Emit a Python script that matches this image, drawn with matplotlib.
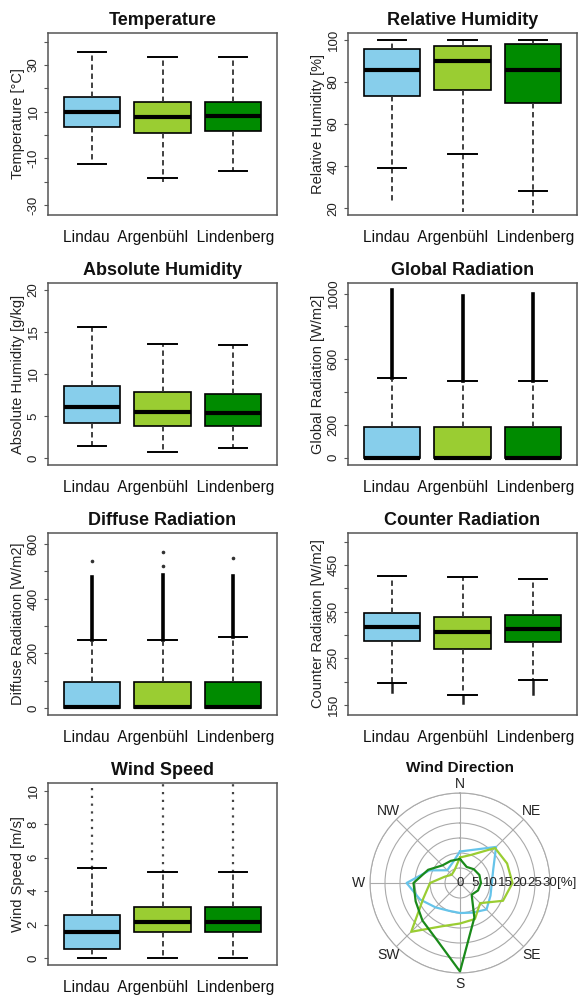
import matplotlib.pyplot as plt
import numpy as np

plt.rcParams['font.family'] = ['Liberation Sans', 'DejaVu Sans']

stations = ['Lindau', 'Argenbühl', 'Lindenberg']
box_colors = ['#87CEEB', '#9ACD32', '#008B00']
line_colors = ['#66C4EA', '#9ACD32', '#1A8A1A']

# per station: lower whisker, q1, median, q3, upper whisker
temp_stats = [[-12.4, 3.6, 10.0, 16.2, 35.7],
              [-18.6, 1.0, 7.9, 14.3, 33.3],
              [-15.3, 1.9, 8.3, 14.3, 33.3]]
temp_out_low = [None, -20.0, None]

rh_stats = [[39.2, 73.2, 85.8, 95.7, 99.7],
            [45.6, 76.0, 89.9, 97.0, 99.7],
            [28.2, 70.0, 85.8, 98.1, 99.7]]
rh_out_low = [23.1, 18.4, 17.8]

ah_stats = [[1.45, 4.2, 6.07, 8.6, 15.6],
            [0.78, 3.8, 5.5, 7.84, 13.6],
            [1.18, 3.8, 5.37, 7.64, 13.4]]

glob_stats = [[0, 0, 0, 184, 483],
              [0, 0, 0, 184, 469],
              [0, 0, 0, 184, 465]]
glob_out_high = [1020, 983, 1000]

diff_stats = [[0, 0, 2, 96, 250],
              [0, 0, 2, 96, 250],
              [0, 0, 2, 96, 258]]
diff_out_high = [478, 488, 484]
diff_out_points = [[536], [521, 569], [549]]

cr_stats = [[196.4, 287.8, 317.8, 347.8, 427.0],
            [171.4, 270.0, 305.7, 338.0, 423.6],
            [203.6, 284.3, 312.8, 342.8, 420.0]]
cr_out_low = [178.6, 153.6, 173.6]

ws_stats = [[0, 0.55, 1.55, 2.58, 5.37],
            [0, 1.55, 2.15, 3.08, 5.13],
            [0, 1.55, 2.15, 3.08, 5.13]]
ws_out_high = [12, 12, 12]

# wind direction frequencies [%], 16 sectors clockwise from north
directions = ['N', 'NNE', 'NE', 'ENE', 'E', 'ESE', 'SE', 'SSE',
              'S', 'SSW', 'SW', 'WSW', 'W', 'WNW', 'NW', 'NNW']
wd_lindau = [10.5, 12, 17, 12, 10.6, 11, 12.5, 10.7, 10, 10, 11.5, 14.4, 17.8, 11, 6, 7]
wd_argenbuehl = [8.5, 10.2, 16.5, 17, 17.5, 15.5, 9.5, 13, 13.5, 15.6, 23, 13.2, 10, 5.5, 3.9, 4.7]
wd_lindenberg = [8, 5.8, 6.5, 7, 7, 6.5, 5.5, 12.5, 29.5, 20.4, 17.7, 16, 15.5, 11.5, 8.3, 8]

W, H = 579, 996
fig = plt.figure(figsize=(W / 100, H / 100), dpi=100)

frame_col = '#555555'
out_styles = {'dash': dict(color='#333333', linewidth=1.3, linestyle=(0, (3, 2))),
              'solid': dict(color='black', linewidth=2.6, linestyle='-'),
              'thin': dict(color='#222222', linewidth=1.8, linestyle='-'),
              'dot': dict(color='#444444', linewidth=1.6, linestyle=(0, (1, 2.5)))}


def new_axes(col, row):
    left = [48, 348][col]
    top = [33, 283, 533, 783][row]
    return fig.add_axes([left / W, 1 - (top + 182) / H, 229 / W, 182 / H])


def box_panel(ax, title, ylabel, stats, ylim, ticks, ticklabels,
              out_low=None, out_high=None, style='dash', points=None):
    pos = [1, 2, 3]
    bstats = [dict(whislo=s[0], q1=s[1], med=s[2], q3=s[3], whishi=s[4], fliers=[])
              for s in stats]
    bp = ax.bxp(bstats, positions=pos, widths=0.8, patch_artist=True, showfliers=False,
                boxprops=dict(edgecolor='black', linewidth=1.2),
                medianprops=dict(color='black', linewidth=3, solid_capstyle='butt'),
                whiskerprops=dict(color='#333333', linewidth=1.3, linestyle=(0, (3, 2))),
                capprops=dict(color='black', linewidth=1.4))
    for patch, c in zip(bp['boxes'], box_colors):
        patch.set_facecolor(c)
    # dense outliers drawn as a continuous run beyond the whiskers
    for i, s in enumerate(stats):
        if out_low is not None and out_low[i] is not None:
            ax.plot([pos[i], pos[i]], [s[0], out_low[i]], zorder=1, **out_styles[style])
        if out_high is not None and out_high[i] is not None:
            ax.plot([pos[i], pos[i]], [s[4], out_high[i]], zorder=1, **out_styles[style])
        if points is not None:
            ax.plot([pos[i]] * len(points[i]), points[i], 'o', color='#333333',
                    markersize=1.6, zorder=1)
    ax.set_xlim(0.38, 3.62)
    ax.set_ylim(*ylim)
    ax.set_xticks([])
    ax.set_yticks(ticks)
    ax.set_yticklabels(ticklabels)
    ax.tick_params(axis='y', labelrotation=90, length=3, width=0.8, color=frame_col,
                   pad=3, labelsize=9.5, labelcolor='#222222')
    for lbl in ax.get_yticklabels():
        lbl.set_va('center')
    for sp in ax.spines.values():
        sp.set_color(frame_col)
        sp.set_linewidth(1.1)
    ax.set_title(title, fontweight='bold', fontsize=13, pad=6, color='#111111')
    ax.text(-0.131, 0.5, ylabel, transform=ax.transAxes, rotation=90,
            ha='center', va='center', fontsize=10.5, color='#222222')
    ax.text(0.528, -0.126, '  '.join(stations), transform=ax.transAxes,
            ha='center', va='center', fontsize=11.2, color='#111111')


ax = new_axes(0, 0)
box_panel(ax, 'Temperature', 'Temperature [°C]', temp_stats, (-34.3, 43.7),
          range(-30, 41, 10), ['-30', '', '-10', '', '10', '', '30', ''],
          out_low=temp_out_low)

ax = new_axes(1, 0)
box_panel(ax, 'Relative Humidity', 'Relative Humidity [%]', rh_stats, (16.8, 103.2),
          range(20, 101, 20), ['20', '40', '60', '80', '100'], out_low=rh_out_low)

ax = new_axes(0, 1)
box_panel(ax, 'Absolute Humidity', 'Absolute Humidity [g/kg]', ah_stats, (-0.8, 20.8),
          range(0, 21, 5), ['0', '5', '10', '15', '20'])

ax = new_axes(1, 1)
box_panel(ax, 'Global Radiation', 'Global Radiation [W/m2]', glob_stats, (-45, 1065),
          range(0, 1001, 200), ['0', '200', '', '600', '', '1000'],
          out_high=glob_out_high, style='solid')

ax = new_axes(0, 2)
box_panel(ax, 'Diffuse Radiation', 'Diffuse Radiation [W/m2]', diff_stats, (-26, 640),
          range(0, 601, 100), ['0', '', '200', '', '400', '', '600'],
          out_high=diff_out_high, style='solid', points=diff_out_points)

ax = new_axes(1, 2)
box_panel(ax, 'Counter Radiation', 'Counter Radiation [W/m2]', cr_stats, (128.6, 518.6),
          range(150, 501, 50), ['150', '', '250', '', '350', '', '450', ''],
          out_low=cr_out_low, style='thin')

ax = new_axes(0, 3)
box_panel(ax, 'Wind Speed', 'Wind Speed [m/s]', ws_stats, (-0.4, 10.45),
          range(0, 11, 2), ['0', '2', '4', '6', '8', '10'],
          out_high=ws_out_high, style='dot')

# wind direction rose
cx, cy, rad = 460, 883, 90
pax = fig.add_axes([(cx - rad) / W, 1 - (cy + rad) / H, 2 * rad / W, 2 * rad / H],
                   projection='polar')
pax.set_theta_zero_location('N')
pax.set_theta_direction(-1)
theta = np.deg2rad(np.arange(len(directions)) * 22.5)
theta_c = np.append(theta, theta[0])
for vals, c in zip([wd_lindau, wd_argenbuehl, wd_lindenberg], line_colors):
    pax.plot(theta_c, vals + vals[:1], color=c, linewidth=1.6)
pax.set_rlim(0, 30)
pax.set_rgrids([5, 10, 15, 20, 25, 30], labels=[])
pax.set_thetagrids(np.arange(0, 360, 45), labels=[])
pax.grid(color='#AAAAAA', linewidth=0.8)
pax.spines['polar'].set_color('#AAAAAA')
pax.spines['polar'].set_linewidth(0.8)
pax.set_facecolor('none')
for ang, lab in zip(np.arange(0, 360, 45), ['N', 'NE', '', 'SE', 'S', 'SW', 'W', 'NW']):
    if lab:
        r_lab = 33.0 if lab == 'N' else 33.8
        pax.text(np.deg2rad(ang), r_lab, lab, ha='center', va='center', fontsize=10,
                 color='#222222', clip_on=False)
for r in range(0, 31, 5):
    pax.text(np.pi / 2, r, str(r), ha='center', va='center', fontsize=9.5,
             color='#222222', clip_on=False)
pax.text(np.pi / 2, 35.5, '[%]', ha='center', va='center', fontsize=9.5,
         color='#222222', clip_on=False)
fig.text(cx / W, 1 - 768 / H, 'Wind Direction', ha='center', va='center',
         fontsize=11, fontweight='bold', color='#111111')

fig.savefig('out.png', dpi=100)
